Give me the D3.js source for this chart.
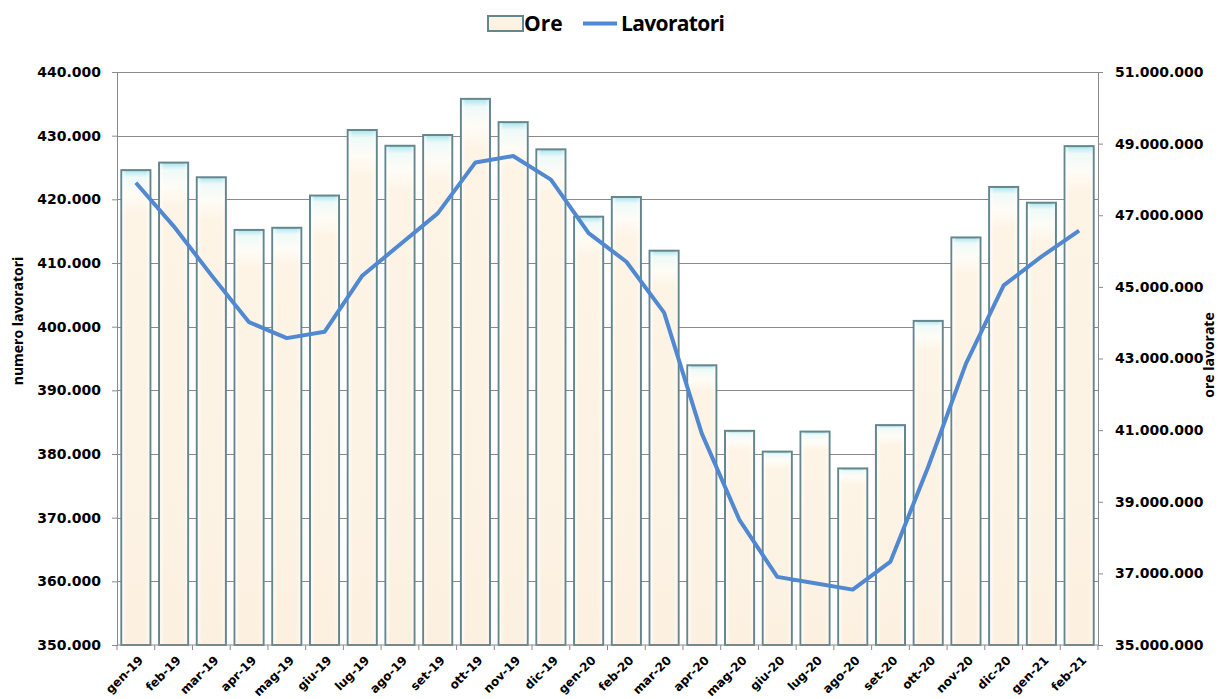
<!DOCTYPE html>
<html lang="it">
<head>
<meta charset="UTF-8">
<title>Ore e Lavoratori</title>
<script src="https://d3js.org/d3.v7.min.js"></script>
<style>
  body { margin: 0; background: #fff; }
  svg { display: block; }
  .tick-label { font-family: "DejaVu Sans", sans-serif; font-weight: bold; font-size: 14px; fill: #000; }
  .cat-label { font-family: "DejaVu Sans", sans-serif; font-weight: bold; font-size: 12px; fill: #000; }
  .axis-title { font-family: "Open Sans", sans-serif; font-weight: bold; font-size: 14px; fill: #000; }
  .legend-text { font-family: "Open Sans", sans-serif; font-weight: bold; font-size: 21px; fill: #000; }
</style>
</head>
<body>
<svg width="1221" height="699"></svg>
<script>
// months
const mesi = ["gen-19","feb-19","mar-19","apr-19","mag-19","giu-19","lug-19","ago-19","set-19","ott-19","nov-19","dic-19",
              "gen-20","feb-20","mar-20","apr-20","mag-20","giu-20","lug-20","ago-20","set-20","ott-20","nov-20","dic-20",
              "gen-21","feb-21"];

// ore lavorate (bars, right axis)
const ore = [48260000, 48470000, 48060000, 46590000, 46650000, 47550000, 49380000, 48940000, 49240000, 50250000, 49600000, 48840000,
             46960000, 47510000, 46010000, 42810000, 40980000, 40400000, 40960000, 39930000, 41140000, 44050000, 46380000, 47790000,
             47350000, 48930000];

// numero lavoratori (line, left axis)
const lavoratori = [422600, 415800, 408100, 400700, 398200, 399200, 408000, 412900, 417800, 425800, 426800, 423100,
                    414700, 410200, 402200, 383200, 369600, 360700, 359700, 358700, 363100, 378000, 394200, 406500,
                    411000, 415100];

const leftTicks = d3.range(350000, 440001, 10000);
const rightTicks = d3.range(35000000, 51000001, 2000000);

const fmt = v => d3.format(",")(v).replace(/,/g, ".");

const width = 1221, height = 699;
const margin = { top: 72, right: 123, bottom: 54, left: 117 };

const svg = d3.select("svg");

const x = d3.scaleBand()
    .domain(mesi)
    .range([margin.left, width - margin.right])
    .paddingInner(0.23)
    .paddingOuter(0.115);

const yLeft = d3.scaleLinear()
    .domain([350000, 440000])
    .range([height - margin.bottom, margin.top]);

const yRight = d3.scaleLinear()
    .domain([35000000, 51000000])
    .range([height - margin.bottom, margin.top]);

// bar gradient
const defs = svg.append("defs");
const grad = defs.append("linearGradient").attr("id", "barFill").attr("x1", 0).attr("y1", 0).attr("x2", 0).attr("y2", 1);
grad.append("stop").attr("offset", "0%").attr("stop-color", "#a8e4ee");
grad.append("stop").attr("offset", "1.5%").attr("stop-color", "#eefaf8");
grad.append("stop").attr("offset", "5%").attr("stop-color", "#fffcf6");
grad.append("stop").attr("offset", "9%").attr("stop-color", "#fdf4e6");
grad.append("stop").attr("offset", "100%").attr("stop-color", "#fcf1e1");

const gradH = defs.append("linearGradient").attr("id", "barSide").attr("x1", 0).attr("y1", 0).attr("x2", 1).attr("y2", 0);
gradH.append("stop").attr("offset", "0%").attr("stop-color", "#ffffff").attr("stop-opacity", 0.7);
gradH.append("stop").attr("offset", "15%").attr("stop-color", "#ffffff").attr("stop-opacity", 0);
gradH.append("stop").attr("offset", "85%").attr("stop-color", "#ffffff").attr("stop-opacity", 0);
gradH.append("stop").attr("offset", "100%").attr("stop-color", "#ffffff").attr("stop-opacity", 0.5);

// gridlines
svg.append("g")
  .selectAll("line")
  .data(leftTicks.slice(1))
  .join("line")
    .attr("x1", margin.left)
    .attr("x2", width - margin.right)
    .attr("y1", d => Math.round(yLeft(d)) + 0.5)
    .attr("y2", d => Math.round(yLeft(d)) + 0.5)
    .attr("stroke", "#8a8a8a")
    .attr("stroke-width", 1);

// bars
const bars = svg.append("g");
bars.selectAll("rect.bar")
  .data(mesi)
  .join("rect")
    .attr("class", "bar")
    .attr("x", d => x(d))
    .attr("y", (d, i) => yRight(ore[i]))
    .attr("width", x.bandwidth())
    .attr("height", (d, i) => yRight(35000000) - yRight(ore[i]))
    .attr("fill", "url(#barFill)")
    .attr("stroke", "#65868d")
    .attr("stroke-width", 2);
bars.selectAll("rect.side")
  .data(mesi)
  .join("rect")
    .attr("class", "side")
    .attr("x", d => x(d) + 1)
    .attr("y", (d, i) => yRight(ore[i]) + 1)
    .attr("width", x.bandwidth() - 2)
    .attr("height", (d, i) => yRight(35000000) - yRight(ore[i]) - 2)
    .attr("fill", "url(#barSide)");

// left axis
const axL = svg.append("g").attr("transform", `translate(${margin.left},0)`)
  .call(d3.axisLeft(yLeft).tickValues(leftTicks).tickSize(5).tickPadding(11).tickFormat(fmt));
axL.select(".domain").attr("stroke", "#8a8a8a");
axL.selectAll(".tick line").attr("stroke", "#8a8a8a");
axL.selectAll(".tick text").attr("class", "tick-label").attr("font-size", null).attr("font-family", null);

// right axis
const axR = svg.append("g").attr("transform", `translate(${width - margin.right},0)`)
  .call(d3.axisRight(yRight).tickValues(rightTicks).tickSize(5).tickPadding(12).tickFormat(fmt));
axR.select(".domain").attr("stroke", "#8a8a8a");
axR.selectAll(".tick line").attr("stroke", "#8a8a8a");
axR.selectAll(".tick text").attr("class", "tick-label").attr("font-size", null).attr("font-family", null);

// bottom axis: ticks between categories
const axB = svg.append("g").attr("transform", `translate(0,${height - margin.bottom})`);
axB.append("line")
    .attr("x1", margin.left).attr("x2", width - margin.right)
    .attr("stroke", "#8a8a8a");
const step = x.step();
axB.selectAll("line.tk")
  .data(mesi.concat(["end"]))
  .join("line")
    .attr("class", "tk")
    .attr("x1", (d, i) => margin.left + i * step)
    .attr("x2", (d, i) => margin.left + i * step)
    .attr("y1", 0).attr("y2", 5)
    .attr("stroke", "#8a8a8a");
axB.selectAll("text")
  .data(mesi)
  .join("text")
    .attr("class", "cat-label")
    .attr("text-anchor", "end")
    .attr("transform", d => `translate(${x(d) + x.bandwidth() / 2 + 8},${16}) rotate(-45)`)
    .text(d => d);

// line
const line = d3.line()
    .x((d, i) => x(mesi[i]) + x.bandwidth() / 2)
    .y(d => yLeft(d));
svg.append("path")
    .datum(lavoratori)
    .attr("d", line)
    .attr("fill", "none")
    .attr("stroke", "#5088d2")
    .attr("stroke-width", 4)
    .attr("stroke-linejoin", "round");

// axis titles
svg.append("text")
    .attr("class", "axis-title")
    .attr("transform", `translate(23,321) rotate(-90)`)
    .attr("text-anchor", "middle")
    .text("numero lavoratori");
svg.append("text")
    .attr("class", "axis-title")
    .attr("transform", `translate(1214,355) rotate(-90)`)
    .attr("text-anchor", "middle")
    .text("ore lavorate");

// legend
const lg = svg.append("g");
lg.append("rect")
    .attr("x", 488).attr("y", 16).attr("width", 35).attr("height", 15)
    .attr("fill", "url(#barFill)")
    .attr("stroke", "#65868d").attr("stroke-width", 2);
lg.append("text").attr("class", "legend-text").attr("x", 524).attr("y", 31).text("Ore");
lg.append("line")
    .attr("x1", 583).attr("x2", 617).attr("y1", 23.5).attr("y2", 23.5)
    .attr("stroke", "#5088d2").attr("stroke-width", 4);
lg.append("text").attr("class", "legend-text").attr("x", 621).attr("y", 31).attr("textLength", 104).text("Lavoratori");
</script>
</body>
</html>
